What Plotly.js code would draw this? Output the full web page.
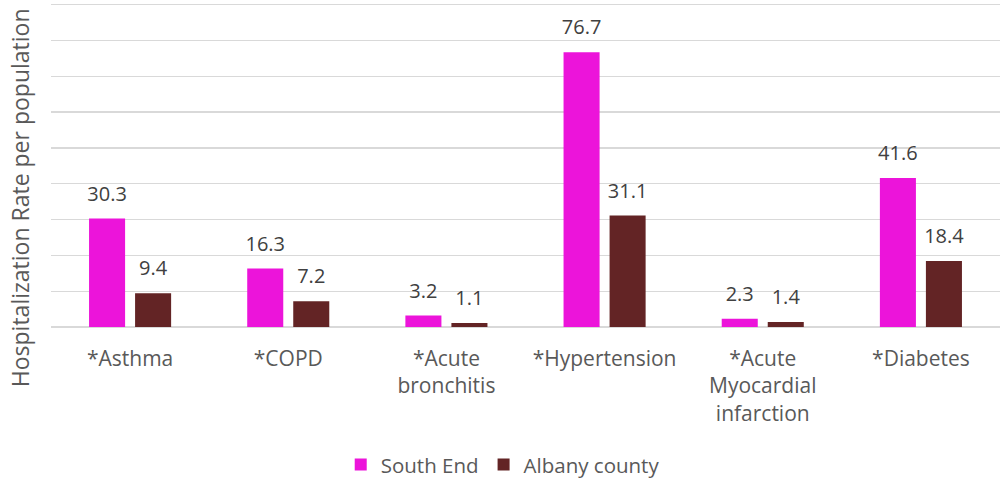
<!DOCTYPE html>
<html>
<head>
<meta charset="utf-8">
<script src="https://cdn.plot.ly/plotly-3.0.1.min.js"></script>
<style>html,body{margin:0;padding:0;background:#fff;}#chart{width:1001px;height:481px;}</style>
</head>
<body>
<div id="chart"></div>
<script>
const categories = ["*Asthma", "*COPD", "*Acute<br>bronchitis", "*Hypertension", "*Acute<br>Myocardial<br>infarction", "*Diabetes"];
const southEnd = [30.3, 16.3, 3.2, 76.7, 2.3, 41.6];
const albanyCounty = [9.4, 7.2, 1.1, 31.1, 1.4, 18.4];
const seriesNames = ["South End", "Albany county"];
const yTitle = "Hospitalization Rate per population";

const FONT = "Open Sans, sans-serif";
const pink = "#EC14DA";
const brown = "#632425";
const labelFont = {family: FONT, size: 20, color: "#404040"};

const traces = [
  {type: "bar", name: seriesNames[0], x: categories, y: southEnd, marker: {color: pink}, offsetgroup: "a", hoverinfo: "none"},
  {type: "bar", name: seriesNames[1], x: categories, y: albanyCounty, marker: {color: brown}, offsetgroup: "b", hoverinfo: "none"},
  {type: "scatter", mode: "markers+text", x: categories, y: southEnd, text: southEnd.map(v => v.toFixed(1)),
   textposition: "top center", textfont: labelFont, marker: {size: 19, color: "rgba(0,0,0,0)"},
   offsetgroup: "a", showlegend: false, hoverinfo: "none", cliponaxis: false},
  {type: "scatter", mode: "markers+text", x: categories, y: albanyCounty, text: albanyCounty.map(v => v.toFixed(1)),
   textposition: "top center", textfont: labelFont, marker: {size: 19, color: "rgba(0,0,0,0)"},
   offsetgroup: "b", showlegend: false, hoverinfo: "none", cliponaxis: false}
];

const layout = {
  width: 1001, height: 481,
  margin: {l: 51, r: 1, t: 0.7, b: 154.3, autoexpand: false},
  paper_bgcolor: "#fff", plot_bgcolor: "#fff",
  font: {family: FONT, size: 20, color: "#595959"},
  barmode: "group", scattermode: "group",
  bargap: 0.418, bargroupgap: 0.217, scattergap: 0.418,
  showlegend: true,
  legend: {orientation: "h", x: 0.476, xanchor: "center", y: -0.484, yanchor: "bottom",
           font: {family: FONT, size: 20.5, color: "#595959"}, itemwidth: 30},
  xaxis: {type: "category", ticks: "", showgrid: false, showline: false, zeroline: false,
          tickfont: {family: FONT, size: 21, color: "#595959"}, ticklabelstandoff: 17, fixedrange: true},
  yaxis: {range: [0, 91], dtick: 10, showticklabels: false, ticks: "", showgrid: true,
          gridcolor: "#D9D9D9", gridwidth: 1.3, zeroline: true, zerolinecolor: "#D9D9D9", zerolinewidth: 1.3,
          fixedrange: true},
  annotations: [{text: yTitle, textangle: -90, xref: "paper", yref: "paper", x: -0.0327, y: 0.398,
                 xanchor: "center", yanchor: "middle", showarrow: false,
                 font: {family: FONT, size: 23, color: "#595959"}}]
};

Plotly.newPlot("chart", traces, layout, {displayModeBar: false, staticPlot: true});
</script>
</body>
</html>
